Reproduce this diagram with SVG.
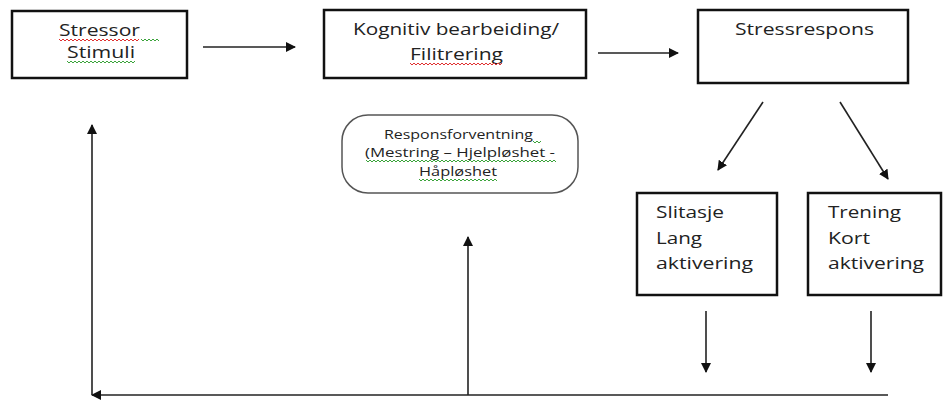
<svg xmlns="http://www.w3.org/2000/svg" width="943" height="400" viewBox="0 0 943 400">
  <style>
    .box { fill: #ffffff; stroke: #111111; stroke-width: 2.5; }
    .rbox { fill: #ffffff; stroke: #555555; stroke-width: 1.5; }
    .lbl { font-family: "Open Sans", "Liberation Sans", sans-serif; font-size: 16px; fill: #222222; }
    .sm { font-size: 12px; }
    .conn { stroke: #222222; stroke-width: 1.6; fill: none; }
    .sq-r { stroke: #e03030; stroke-width: 1; fill: none; }
    .sq-g { stroke: #3aa33a; stroke-width: 1; fill: none; }
  </style>
  <defs>
    <marker id="arrow" viewBox="0 0 10 10" refX="9" refY="5" markerWidth="10" markerHeight="10" markerUnits="userSpaceOnUse" orient="auto">
      <path d="M0,0 L10,5 L0,10 z" fill="#111111"/>
    </marker>
  </defs>

  <rect width="943" height="400" fill="#ffffff"/>

  <!-- nodes -->
  <g id="stressor">
    <rect class="box" x="12" y="11" width="175" height="67"/>
    <text class="lbl" x="59" y="36" textLength="81" lengthAdjust="spacingAndGlyphs">Stressor</text>
    <text class="lbl" x="67" y="58" textLength="68" lengthAdjust="spacingAndGlyphs">Stimuli</text>
    <polyline class="sq-r" points="59,39 61,41 63,39 65,41 67,39 69,41 71,39 73,41 75,39 77,41 79,39 81,41 83,39 85,41 87,39 89,41 91,39 93,41 95,39 97,41 99,39 101,41 103,39 105,41 107,39 109,41 111,39 113,41 115,39 117,41 119,39 121,41 123,39 125,41 127,39 129,41 131,39 133,41 135,39 137,41 139,39"/>
    <polyline class="sq-g" points="141,39 143,41 145,39 147,41 149,39 151,41 153,39 155,41 157,39 159,41"/>
    <polyline class="sq-g" points="67,61 69,63 71,61 73,63 75,61 77,63 79,61 81,63 83,61 85,63 87,61 89,63 91,61 93,63 95,61 97,63 99,61 101,63 103,61 105,63 107,61 109,63 111,61 113,63 115,61 117,63 119,61 121,63 123,61 125,63 127,61 129,63 131,61 133,63 135,61"/>
  </g>

  <g id="kognitiv">
    <rect class="box" x="324" y="10" width="262" height="68"/>
    <text class="lbl" x="353" y="35" textLength="206" lengthAdjust="spacingAndGlyphs">Kognitiv bearbeiding/</text>
    <text class="lbl" x="410" y="60" textLength="93" lengthAdjust="spacingAndGlyphs">Filitrering</text>
    <polyline class="sq-r" points="410,63 412,65 414,63 416,65 418,63 420,65 422,63 424,65 426,63 428,65 430,63 432,65 434,63 436,65 438,63 440,65 442,63 444,65 446,63 448,65 450,63 452,65 454,63 456,65 458,63 460,65 462,63 464,65 466,63 468,65 470,63 472,65 474,63 476,65 478,63 480,65 482,63 484,65 486,63 488,65 490,63 492,65 494,63 496,65 498,63 500,65 502,63"/>
  </g>

  <g id="stressrespons">
    <rect class="box" x="698" y="10" width="210" height="73"/>
    <text class="lbl" x="735" y="35" textLength="139" lengthAdjust="spacingAndGlyphs">Stressrespons</text>
  </g>

  <g id="responsforventning">
    <rect class="rbox" x="342" y="115" width="236" height="78" rx="26" ry="26"/>
    <text class="lbl sm" x="384" y="139" textLength="149" lengthAdjust="spacingAndGlyphs">Responsforventning</text>
    <text class="lbl sm" x="365" y="157" textLength="190" lengthAdjust="spacingAndGlyphs">(Mestring – Hjelpløshet -</text>
    <text class="lbl sm" x="419" y="176" textLength="78" lengthAdjust="spacingAndGlyphs">Håpløshet</text>
    <polyline class="sq-g" points="533,141 535,143 537,141 539,143 541,141"/>
    <polyline class="sq-g" points="366,160 368,162 370,160 372,162 374,160 376,162 378,160 380,162 382,160 384,162 386,160 388,162 390,160 392,162 394,160 396,162 398,160 400,162 402,160 404,162 406,160 408,162 410,160 412,162 414,160 416,162 418,160 420,162 422,160 424,162 426,160 428,162 430,160 432,162 434,160 436,162 438,160 440,162 442,160 444,162 446,160 448,162 450,160 452,162 454,160 456,162 458,160 460,162 462,160 464,162 466,160 468,162 470,160 472,162 474,160 476,162 478,160 480,162 482,160 484,162 486,160 488,162 490,160 492,162 494,160 496,162 498,160 500,162 502,160 504,162 506,160 508,162 510,160 512,162 514,160 516,162 518,160 520,162 522,160 524,162 526,160 528,162 530,160 532,162 534,160 536,162 538,160 540,162 542,160 544,162 546,160 548,162 550,160 552,162 554,160 556,162"/>
    <polyline class="sq-g" points="419,179 421,181 423,179 425,181 427,179 429,181 431,179 433,181 435,179 437,181 439,179 441,181 443,179 445,181 447,179 449,181 451,179 453,181 455,179 457,181 459,179 461,181 463,179 465,181 467,179 469,181 471,179 473,181 475,179 477,181 479,179 481,181 483,179 485,181 487,179 489,181 491,179 493,181 495,179 497,181"/>
  </g>

  <g id="slitasje">
    <rect class="box" x="637" y="193" width="140" height="102"/>
    <text class="lbl" x="656" y="218" textLength="68" lengthAdjust="spacingAndGlyphs">Slitasje</text>
    <text class="lbl" x="656" y="244" textLength="46" lengthAdjust="spacingAndGlyphs">Lang</text>
    <text class="lbl" x="656" y="269" textLength="97" lengthAdjust="spacingAndGlyphs">aktivering</text>
  </g>

  <g id="trening">
    <rect class="box" x="808" y="193" width="133" height="102"/>
    <text class="lbl" x="828" y="218" textLength="73" lengthAdjust="spacingAndGlyphs">Trening</text>
    <text class="lbl" x="828" y="244" textLength="42" lengthAdjust="spacingAndGlyphs">Kort</text>
    <text class="lbl" x="828" y="269" textLength="96" lengthAdjust="spacingAndGlyphs">aktivering</text>
  </g>

  <!-- connectors -->
  <g id="connectors">
    <line class="conn" x1="203" y1="47" x2="295" y2="47" marker-end="url(#arrow)"/>
    <line class="conn" x1="598" y1="53" x2="678" y2="53" marker-end="url(#arrow)"/>
    <line class="conn" x1="763" y1="102" x2="718" y2="170" marker-end="url(#arrow)"/>
    <line class="conn" x1="840" y1="102" x2="888" y2="179" marker-end="url(#arrow)"/>
    <line class="conn" x1="706" y1="311" x2="706" y2="372" marker-end="url(#arrow)"/>
    <line class="conn" x1="871" y1="311" x2="871" y2="372" marker-end="url(#arrow)"/>
    <line class="conn" x1="888" y1="395" x2="92" y2="395" marker-end="url(#arrow)"/>
    <line class="conn" x1="92" y1="395" x2="92" y2="125" marker-end="url(#arrow)"/>
    <line class="conn" x1="468" y1="395" x2="468" y2="237" marker-end="url(#arrow)"/>
  </g>
</svg>
